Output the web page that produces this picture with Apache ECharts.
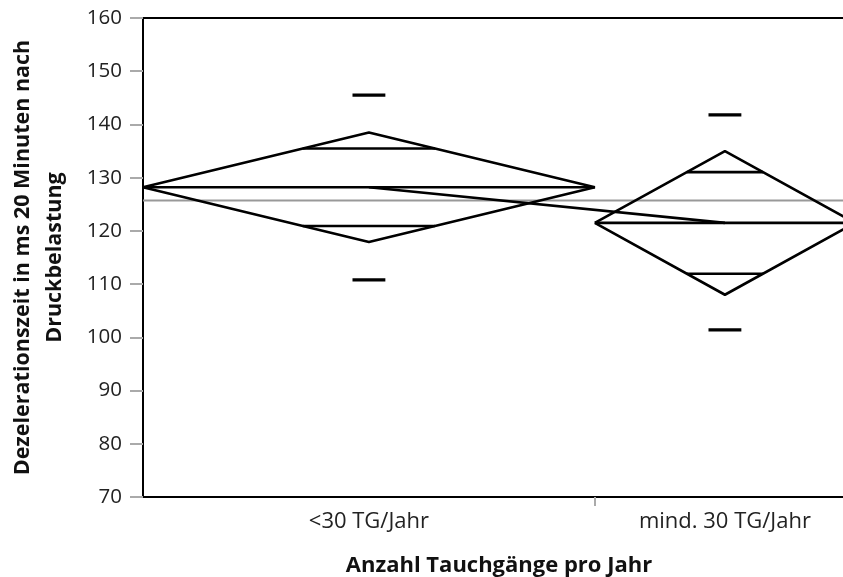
<!DOCTYPE html>
<html>
<head>
<meta charset="utf-8">
<script src="https://cdn.jsdelivr.net/npm/echarts@6/dist/echarts.min.js"></script>
<style>
html, body { margin: 0; padding: 0; background: #fff; }
#chart { width: 843px; height: 577px; }
</style>
</head>
<body>
<div id="chart"></div>
<script>
// Gruppen und Kennwerte
var groups = ['<30 TG/Jahr', 'mind. 30 TG/Jahr'];
var groupN = [33, 19];
var means = [128.2, 121.5];
var ciHalf = [10.3, 13.5];
var sdHigh = [145.5, 141.8];
var sdLow = [110.8, 101.4];
var grandMean = 125.7;

var FONT = '"Open Sans", "Noto Sans", sans-serif';

function seg(points, width, color) {
  return {
    type: 'line',
    data: points,
    symbol: 'none',
    silent: true,
    clip: true,
    animation: false,
    lineStyle: { color: color || '#000', width: width || 2.6 }
  };
}

var total = groupN.reduce(function (a, b) { return a + b; }, 0);
var series = [];
var centers = [];
var bounds = [];
var start = 0;

// graue Linie: Gesamtmittelwert
series.push(seg([[0, grandMean], [total, grandMean]], 2, '#999'));

groups.forEach(function (g, i) {
  var x0 = start, x1 = start + groupN[i];
  var xc = (x0 + x1) / 2, hw = groupN[i] / 2;
  var m = means[i], c = ciHalf[i];
  var o = c / Math.SQRT2, ow = hw * (1 - 1 / Math.SQRT2);
  centers.push(xc);
  // Raute
  series.push(seg([[x0, m], [xc, m + c], [x1, m], [xc, m - c], [x0, m]]));
  // Mittelwert
  series.push(seg([[x0, m], [x1, m]]));
  // Überlappungsmarken
  series.push(seg([[xc - ow, m + o], [xc + ow, m + o]]));
  series.push(seg([[xc - ow, m - o], [xc + ow, m - o]]));
  // Standardabweichung
  series.push(seg([[xc - 1.2, sdHigh[i]], [xc + 1.2, sdHigh[i]]], 3.4));
  series.push(seg([[xc - 1.2, sdLow[i]], [xc + 1.2, sdLow[i]]], 3.4));
  start = x1;
  if (i < groups.length - 1) bounds.push(x1);
});

// Verbindung der Mittelwerte
series.push(seg(centers.map(function (x, i) { return [x, means[i]]; })));

var chart = echarts.init(document.getElementById('chart'));
chart.setOption({
  animation: false,
  grid: {
    left: 143, width: 712, top: 18, bottom: 80,
    outerBoundsMode: 'none',
    containLabel: false,
    show: true, borderColor: '#000', borderWidth: 2
  },
  xAxis: {
    type: 'value',
    min: 0,
    max: total,
    name: 'Anzahl Tauchgänge pro Jahr',
    nameLocation: 'middle',
    nameGap: 58,
    nameTextStyle: { fontFamily: FONT, fontSize: 22, fontWeight: 'bold', color: '#111' },
    axisLine: { show: true, lineStyle: { color: '#000', width: 2 } },
    axisTick: { show: true, customValues: bounds, length: 9, lineStyle: { color: '#aaa', width: 2 } },
    axisLabel: {
      customValues: centers,
      margin: 14,
      fontFamily: FONT, fontSize: 22, color: '#222',
      formatter: function (v) {
        var k = 0;
        centers.forEach(function (c, i) { if (Math.abs(c - v) < Math.abs(centers[k] - v)) k = i; });
        return groups[k];
      }
    },
    splitLine: { show: false }
  },
  yAxis: {
    type: 'value',
    min: 70,
    max: 160,
    interval: 10,
    name: 'Dezelerationszeit in ms 20 Minuten nach\nDruckbelastung',
    nameLocation: 'middle',
    nameGap: 72,
    nameTextStyle: { fontFamily: FONT, fontSize: 21.5, fontWeight: 'bold', color: '#111', lineHeight: 32, align: 'center' },
    axisLine: { show: true, lineStyle: { color: '#000', width: 2 } },
    axisTick: { show: true, length: 13, lineStyle: { color: '#aaa', width: 2 } },
    axisLabel: { margin: 21, fontFamily: FONT, fontSize: 20.5, color: '#222' },
    splitLine: { show: false }
  },
  series: series
});
</script>
</body>
</html>
